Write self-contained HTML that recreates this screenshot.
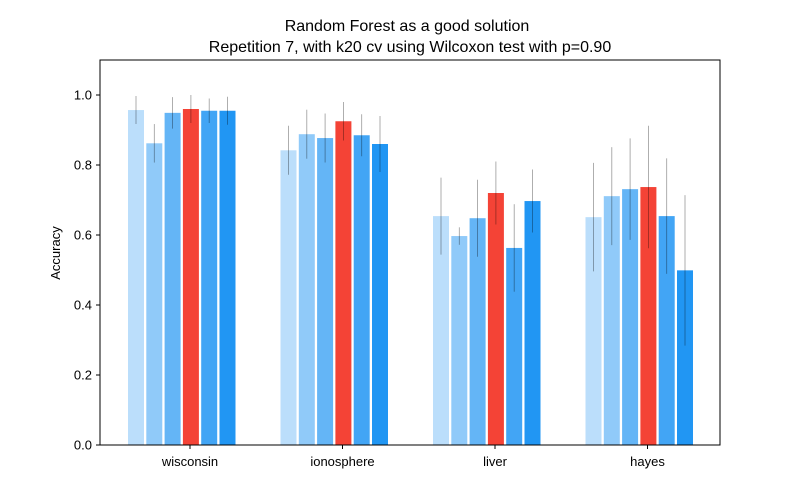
<!DOCTYPE html>
<html><head><meta charset="utf-8"><style>body{margin:0;background:#fff}svg{display:block;font-family:"Liberation Sans","DejaVu Sans",sans-serif}</style></head>
<body>
<svg id="chart" width="800" height="500">
<text x="407" y="31" text-anchor="middle" font-size="16">Random Forest as a good solution</text>
<text x="410" y="52" text-anchor="middle" font-size="16">Repetition 7, with k20 cv using Wilcoxon test with p=0.90</text>
<g id="bars"></g>
<rect x="100" y="60" width="620" height="385" fill="none" stroke="#000" stroke-width="1"/>
<g id="axes"></g>
<text transform="translate(60,253) rotate(-90)" text-anchor="middle" font-size="13">Accuracy</text>
</svg>
<script>
const categories=["wisconsin","ionosphere","liver","hayes"];
const values=[[0.957,0.862,0.949,0.960,0.955,0.955],[0.842,0.888,0.877,0.925,0.885,0.860],[0.654,0.597,0.648,0.720,0.563,0.697],[0.651,0.711,0.731,0.737,0.654,0.499]];
const errors=[[0.04,0.055,0.045,0.04,0.035,0.04],[0.07,0.07,0.07,0.055,0.06,0.08],[0.11,0.025,0.11,0.09,0.125,0.09],[0.155,0.14,0.145,0.175,0.165,0.215]];
const yTicks=[0,0.2,0.4,0.6,0.8,1.0];
const colors=["#bbdefb","#90caf9","#64b5f6","#f44336","#42a5f5","#2196f3"];
const NS="http://www.w3.org/2000/svg";
const y=v=>445-v*350;
const gx=i=>128+i*152.5;
const bars=document.getElementById('bars'),axes=document.getElementById('axes');
function mk(t,a,p){const e=document.createElementNS(NS,t);for(const k in a)e.setAttribute(k,a[k]);p.appendChild(e);return e;}
values.forEach((grp,i)=>{grp.forEach((v,j)=>{
 const x=gx(i)+j*18.3;
 const r=mk('rect',{x:x,y:y(v),width:16,height:445-y(v),fill:colors[j]},bars);
 
 
 const e=errors[i][j];
 const l=mk('line',{x1:x+8,x2:x+8,y1:y(v+e),y2:y(Math.max(0,v-e)),stroke:'#000','stroke-opacity':0.4,'stroke-width':0.8},bars);
 
 
});
 const t=mk('text',{x:gx(i)+62,y:466,'text-anchor':'middle','font-size':13},axes);t.textContent=categories[i];
 
 
 mk('line',{x1:gx(i)+62,x2:gx(i)+62,y1:445,y2:449,stroke:'#000'},axes);
});
yTicks.forEach(v=>{
 mk('line',{x1:96,x2:100,y1:y(v),y2:y(v),stroke:'#000'},axes);
 const t=mk('text',{x:92,y:y(v)+4.5,'text-anchor':'end','font-size':13},axes);t.textContent=v.toFixed(1);
 
 
});
</script>
</body></html>
